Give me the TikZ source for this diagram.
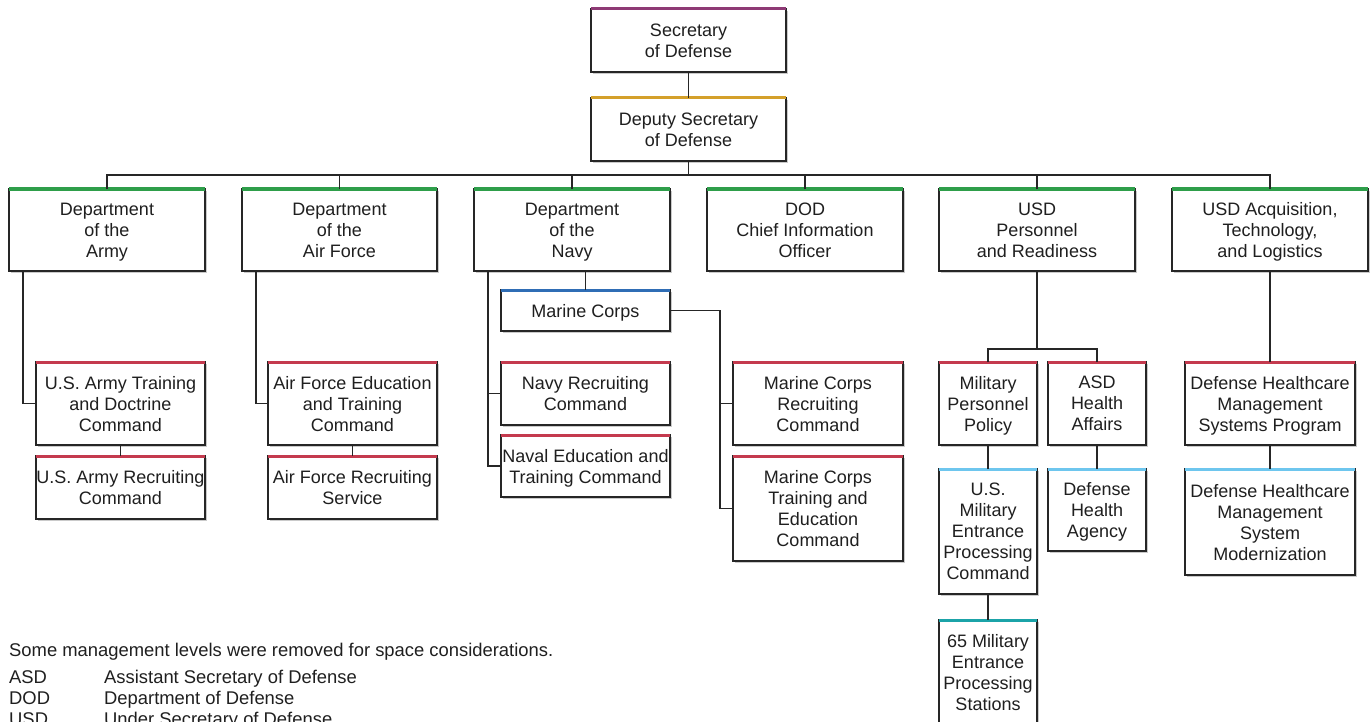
\documentclass[tikz,border=0pt]{standalone}
\usepackage{fontspec}
\setmainfont{Liberation Sans}
\usetikzlibrary{shadows}
\definecolor{linec}{HTML}{262626}
\definecolor{cpurple}{HTML}{8E3A75}
\definecolor{cgold}{HTML}{D4A02A}
\definecolor{cgreen}{HTML}{2E9E4A}
\definecolor{cred}{HTML}{C43A4E}
\definecolor{cblue}{HTML}{2F6DB5}
\definecolor{clight}{HTML}{6EC6EE}
\definecolor{cteal}{HTML}{1BA3A8}
\tikzset{
  orgbox/.style={draw=linec, line width=1.3pt, fill=white, inner sep=0pt,
    outer sep=0pt, anchor=north west,
    drop shadow={shadow xshift=2pt, shadow yshift=-2pt, opacity=0.35, fill=black!60}},
  boxtext/.style={align=center, inner sep=0pt, text=black!88,
    text depth=0pt,
    font=\fontsize{18}{21}\selectfont},
  conn/.style={draw=linec, line width=1.8pt},
  topbar/.style={line width=3pt, line cap=butt},
  legend/.style={anchor=base west, inner sep=0pt, text=black!88, font=\fontsize{18.4}{21}\selectfont}
}
\newcommand\orgbox[7]{%
  \node[orgbox, minimum width=#4pt, minimum height=#5pt] (#1) at (#2,#3) {};
  \node[boxtext] (#1-t) at (#1.center) {#7};
  \draw[topbar, #6] (#1.north west) -- (#1.north east);
}
\begin{document}
\begin{tikzpicture}[x=1pt, y=-1pt]
\useasboundingbox (0,0) rectangle (1372,722);
% top
\orgbox{sec}{591}{9}{195}{63}{cpurple}{Secretary\\of Defense}
\orgbox{dep}{591}{98}{195}{63}{cgold}{Deputy Secretary\\of Defense}
% level 2
\orgbox{army}{9}{189}{196}{82}{cgreen}{Department\\of the\\Army}
\orgbox{af}{242}{189}{195}{82}{cgreen}{Department\\of the\\Air Force}
\orgbox{navy}{474}{189}{196}{82}{cgreen}{Department\\of the\\Navy}
\orgbox{cio}{707}{189}{196}{82}{cgreen}{DOD\\Chief Information\\Officer}
\orgbox{pr}{939}{189}{196}{82}{cgreen}{USD\\Personnel\\and Readiness}
\orgbox{atl}{1172}{189}{196}{82}{cgreen}{USD Acquisition,\\Technology,\\and Logistics}
% army
\orgbox{tradoc}{36}{362}{169}{83}{cred}{U.S. Army Training\\and Doctrine\\Command}
\orgbox{usarec}{36}{456}{169}{63}{cred}{U.S. Army Recruiting\\Command}
% air force
\orgbox{aetc}{268}{362}{169}{83}{cred}{Air Force Education\\and Training\\Command}
\orgbox{afrs}{268}{456}{169}{63}{cred}{Air Force Recruiting\\Service}
% navy
\orgbox{mc}{501}{290}{169}{41}{cblue}{Marine Corps}
\orgbox{nrc}{501}{362}{169}{63}{cred}{Navy Recruiting\\Command}
\orgbox{netc}{501}{435}{169}{62}{cred}{Naval Education and\\Training Command}
\orgbox{mcrc}{733}{362}{170}{83}{cred}{Marine Corps\\Recruiting\\Command}
\orgbox{mcte}{733}{456}{170}{105}{cred}{Marine Corps\\Training and\\Education\\Command}
% personnel and readiness
\orgbox{mpp}{939}{362}{98}{83}{cred}{Military\\Personnel\\Policy}
\orgbox{asdha}{1048}{362}{98}{83}{cred}{ASD\\Health\\Affairs}
\orgbox{mepcom}{939}{469}{98}{125}{clight}{U.S.\\Military\\Entrance\\Processing\\Command}
\orgbox{dha}{1048}{469}{98}{82}{clight}{Defense\\Health\\Agency}
\orgbox{meps}{939}{620}{98}{104}{cteal}{65 Military\\Entrance\\Processing\\Stations}
% AT&L
\orgbox{dhmsp}{1185}{362}{170}{83}{cred}{Defense Healthcare\\Management\\Systems Program}
\orgbox{dhmsm}{1185}{469}{170}{106}{clight}{Defense Healthcare\\Management\\System\\Modernization}
% connectors
\coordinate (bus) at (0,175);
\draw[conn] (sec.south) -- (dep.north);
\draw[conn] (dep.south) -- (dep.south |- bus);
\draw[conn] (army.north) -- (army.north |- bus) -- (atl.north |- bus) -- (atl.north);
\foreach \n in {af,navy,cio,pr} \draw[conn] (\n.north) -- (\n.north |- bus);
\draw[conn] ([xshift=14pt]army.south west) |- (tradoc.west);
\draw[conn] (tradoc.south) -- (usarec.north);
\draw[conn] ([xshift=14pt]af.south west) |- (aetc.west);
\draw[conn] (aetc.south) -- (afrs.north);
\draw[conn] (mc.north) -- (mc.north |- navy.south);
\draw[conn] ([xshift=14pt]navy.south west) |- (netc.west);
\draw[conn] ([xshift=14pt]navy.south west) |- (nrc.west);
\draw[conn] (mc.east) -- ++(50,0) coordinate (mcj) |- (mcte.west);
\draw[conn] (mcj) |- (mcrc.west);
\coordinate (prj) at (0,349);
\draw[conn] (pr.south) -- (pr.south |- prj);
\draw[conn] (mpp.north) -- (mpp.north |- prj) -| (asdha.north);
\draw[conn] (mpp.south) -- (mepcom.north);
\draw[conn] (asdha.south) -- (dha.north);
\draw[conn] (mepcom.south) -- (meps.north);
\draw[conn] (atl.south) -- (dhmsp.north);
\draw[conn] (dhmsp.south) -- (dhmsm.north);
% legend
\node[legend] (note) at (9,656) {Some management levels were removed for space considerations.};
\node[legend] (asd) at (9,683) {ASD};
\node[legend] (asdd) at (104,683) {Assistant Secretary of Defense};
\node[legend] (dod) at (9,704) {DOD};
\node[legend] (dodd) at (104,704) {Department of Defense};
\node[legend] (usd) at (9,725) {USD};
\node[legend] (usdd) at (104,725) {Under Secretary of Defense};
\end{tikzpicture}
\end{document}
